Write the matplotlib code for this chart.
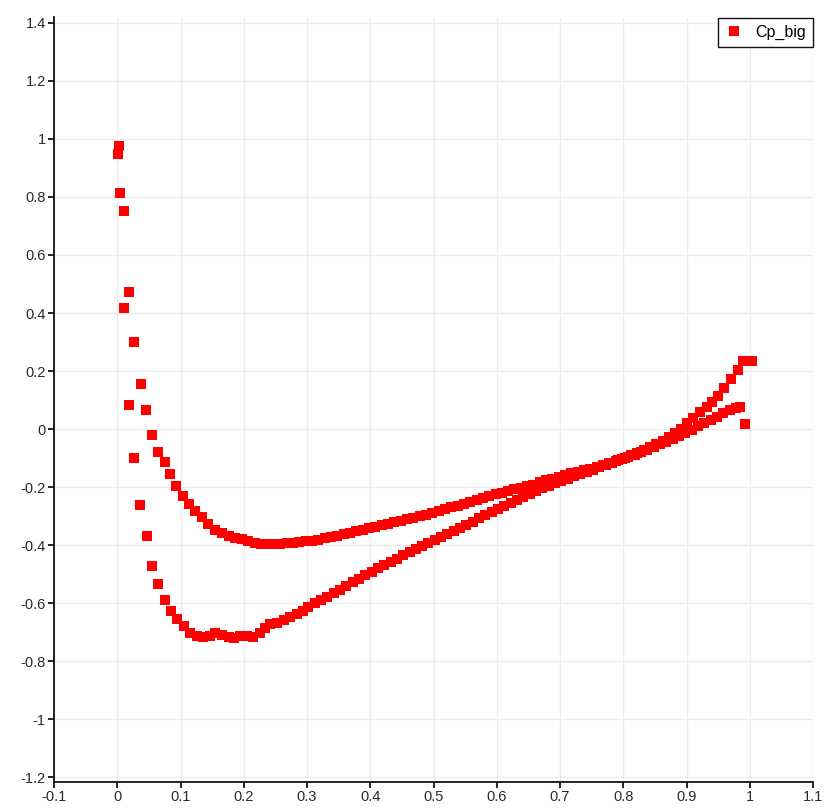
import matplotlib
matplotlib.use("Agg")
import matplotlib.pyplot as plt
from matplotlib.ticker import FuncFormatter

plt.rcParams['axes.unicode_minus'] = False
plt.rcParams['font.family'] = ['Liberation Sans', 'DejaVu Sans']

# surface with the shallow minimum (~ -0.4)
x_a = [0.0005, 0.011, 0.019, 0.027, 0.037, 0.045, 0.055, 0.065, 0.075, 0.084,
       0.093, 0.104, 0.114, 0.123, 0.134, 0.144, 0.155, 0.165, 0.176, 0.186,
       0.197, 0.207, 0.218, 0.228, 0.238, 0.248, 0.258, 0.268, 0.278, 0.288,
       0.298, 0.308, 0.318, 0.328, 0.338, 0.348, 0.358, 0.368, 0.378, 0.388,
       0.398, 0.408, 0.418, 0.428, 0.438, 0.448, 0.458, 0.468, 0.478, 0.488,
       0.498, 0.508, 0.518, 0.528, 0.538, 0.548, 0.558, 0.568, 0.578, 0.588,
       0.598, 0.608, 0.618, 0.628, 0.638, 0.648, 0.658, 0.668, 0.678, 0.688,
       0.698, 0.708, 0.718, 0.728, 0.738, 0.748, 0.758, 0.768, 0.778, 0.788,
       0.798, 0.808, 0.818, 0.828, 0.838, 0.848, 0.858, 0.868, 0.878, 0.888,
       0.898, 0.908, 0.918, 0.928, 0.938, 0.948, 0.958, 0.968, 0.978, 0.984,
       0.992]
cp_a = [0.948, 0.752, 0.473, 0.300, 0.154, 0.065, -0.022, -0.080, -0.113, -0.156,
        -0.195, -0.231, -0.258, -0.281, -0.302, -0.327, -0.348, -0.359, -0.369, -0.374,
        -0.380, -0.385, -0.394, -0.395, -0.396, -0.396, -0.395, -0.393, -0.391, -0.389,
        -0.386, -0.384, -0.381, -0.377, -0.372, -0.368, -0.363, -0.358, -0.352, -0.347,
        -0.342, -0.337, -0.331, -0.326, -0.320, -0.315, -0.310, -0.305, -0.300, -0.295,
        -0.289, -0.283, -0.277, -0.270, -0.264, -0.258, -0.251, -0.244, -0.237, -0.231,
        -0.225, -0.219, -0.213, -0.208, -0.203, -0.197, -0.191, -0.184, -0.177, -0.171,
        -0.165, -0.159, -0.153, -0.148, -0.142, -0.136, -0.130, -0.124, -0.118, -0.111,
        -0.104, -0.096, -0.088, -0.080, -0.071, -0.062, -0.053, -0.044, -0.035, -0.025,
        -0.014, -0.003, 0.009, 0.020, 0.032, 0.043, 0.055, 0.065, 0.072, 0.077,
        0.017]

# surface with the deep minimum (~ -0.72)
x_b = [0.003, 0.005, 0.011, 0.018, 0.027, 0.036, 0.047, 0.055, 0.065, 0.075,
       0.085, 0.095, 0.105, 0.115, 0.126, 0.136, 0.147, 0.155, 0.165, 0.176,
       0.184, 0.194, 0.205, 0.215, 0.226, 0.234, 0.242, 0.252, 0.263, 0.273,
       0.284, 0.294, 0.302, 0.312, 0.322, 0.332, 0.342, 0.352, 0.362, 0.372,
       0.382, 0.392, 0.402, 0.412, 0.422, 0.432, 0.442, 0.452, 0.462, 0.472,
       0.482, 0.492, 0.502, 0.512, 0.522, 0.532, 0.542, 0.552, 0.562, 0.572,
       0.582, 0.592, 0.602, 0.612, 0.622, 0.632, 0.642, 0.652, 0.662, 0.672,
       0.682, 0.692, 0.702, 0.712, 0.722, 0.732, 0.742, 0.752, 0.762, 0.772,
       0.782, 0.792, 0.802, 0.812, 0.822, 0.832, 0.842, 0.852, 0.862, 0.872,
       0.882, 0.892, 0.901, 0.910, 0.921, 0.932, 0.941, 0.950, 0.960, 0.971,
       0.981, 0.989, 1.003]
cp_b = [0.975, 0.814, 0.416, 0.083, -0.098, -0.262, -0.369, -0.471, -0.533, -0.589,
        -0.626, -0.655, -0.678, -0.701, -0.712, -0.716, -0.713, -0.704, -0.710, -0.716,
        -0.721, -0.713, -0.713, -0.716, -0.704, -0.687, -0.672, -0.667, -0.658, -0.649,
        -0.637, -0.626, -0.612, -0.600, -0.590, -0.578, -0.566, -0.553, -0.540, -0.528,
        -0.515, -0.503, -0.492, -0.480, -0.469, -0.457, -0.446, -0.434, -0.423, -0.413,
        -0.403, -0.393, -0.383, -0.373, -0.363, -0.352, -0.341, -0.330, -0.319, -0.308,
        -0.297, -0.286, -0.275, -0.264, -0.253, -0.243, -0.233, -0.223, -0.213, -0.204,
        -0.195, -0.187, -0.179, -0.171, -0.163, -0.155, -0.148, -0.140, -0.132, -0.124,
        -0.116, -0.108, -0.100, -0.091, -0.082, -0.073, -0.063, -0.052, -0.040, -0.028,
        -0.014, 0.000, 0.020, 0.037, 0.060, 0.075, 0.094, 0.114, 0.140, 0.171,
        0.203, 0.235, 0.235]

x_ticks = [-0.1, 0, 0.1, 0.2, 0.3, 0.4, 0.5, 0.6, 0.7, 0.8, 0.9, 1, 1.1]
y_ticks = [-1.2, -1, -0.8, -0.6, -0.4, -0.2, 0, 0.2, 0.4, 0.6, 0.8, 1, 1.2, 1.4]

fig = plt.figure(figsize=(8.25, 8.09), dpi=100)
ax = fig.add_axes([0.0655, 0.0334, 0.92, 0.9456])

# both surfaces are one series in the original
ax.plot(x_a + x_b, cp_a + cp_b, linestyle='none', marker='s', markersize=7.2,
        markeredgewidth=0, color='#ff0000', label='Cp_big', zorder=3)

ax.set_xlim(-0.1, 1.1)
ax.set_ylim(-1.216, 1.42)
ax.set_xticks(x_ticks)
ax.set_yticks(y_ticks)
fmt = FuncFormatter(lambda v, p: '%g' % round(v, 2))
ax.xaxis.set_major_formatter(fmt)
ax.yaxis.set_major_formatter(fmt)

ax.grid(True, color='#ececec', linewidth=1.0, zorder=0)
ax.set_axisbelow(True)
for s in ['top', 'right']:
    ax.spines[s].set_visible(False)
for s in ['left', 'bottom']:
    ax.spines[s].set_linewidth(1.3)
    ax.spines[s].set_color('#111111')
ax.tick_params(direction='out', length=4, width=1.2, labelsize=10.5,
               labelcolor='#2a2a2a', pad=2)

leg = ax.legend(loc='upper right', bbox_to_anchor=(1.0, 0.999), borderaxespad=0,
                fancybox=False, framealpha=1, edgecolor='#111111', fontsize=11.5,
                handlelength=1.2, handletextpad=0.7, borderpad=0.45, markerscale=1.0)
leg.get_frame().set_linewidth(1.0)

fig.savefig('out.png', dpi=100)
